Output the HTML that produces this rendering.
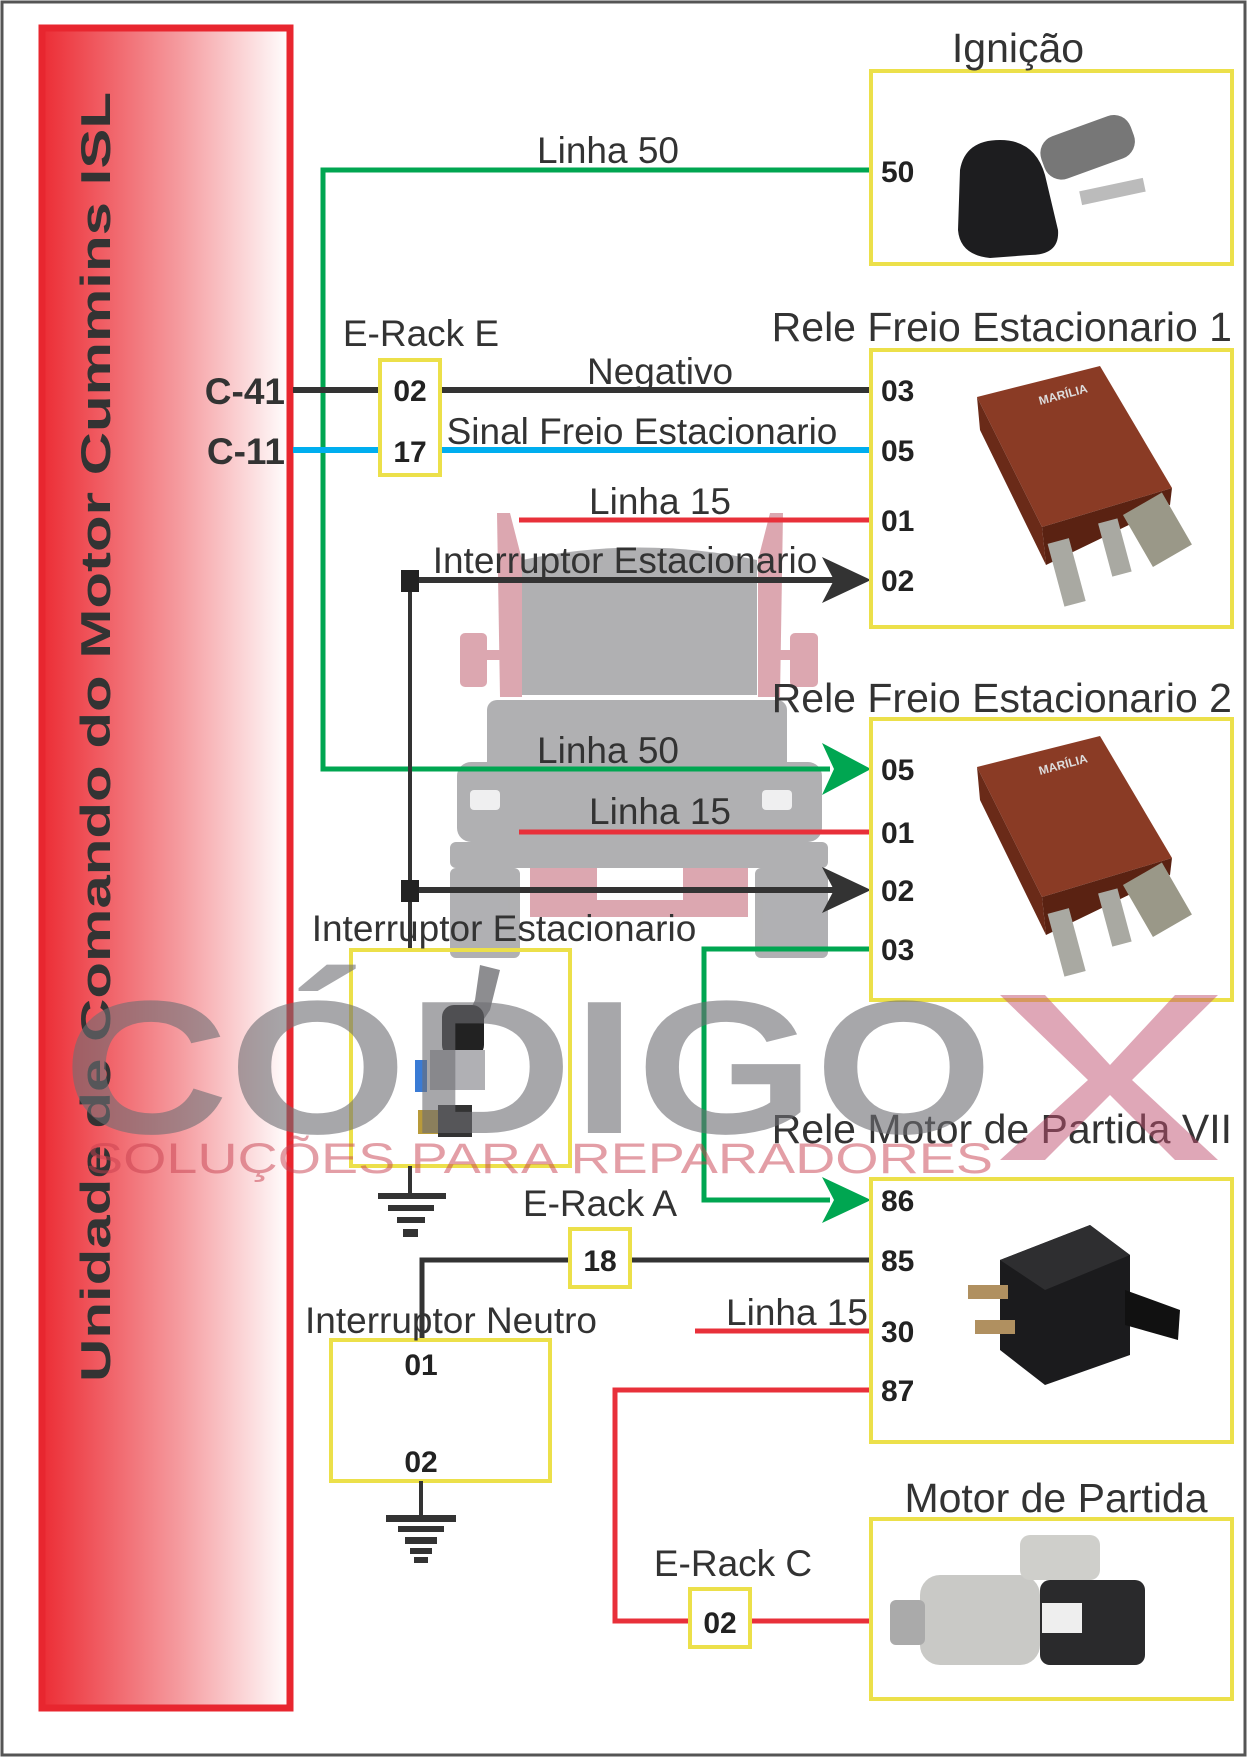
<!DOCTYPE html>
<html><head><meta charset="utf-8">
<style>
html,body{margin:0;padding:0;background:#fff;}
svg{display:block;}
text{font-family:"Liberation Sans",Arial,sans-serif;}
.lb{font-size:37px;fill:#333;}
.tt{font-size:41px;fill:#333;}
.pin{font-size:30px;font-weight:bold;fill:#222;}
</style></head>
<body>
<svg width="1247" height="1757" viewBox="0 0 1247 1757" xmlns="http://www.w3.org/2000/svg">
<defs>
<linearGradient id="ecu" x1="0" x2="1" y1="0" y2="0">
<stop offset="0" stop-color="#ec2d35"/>
<stop offset="0.55" stop-color="#f59a9e"/>
<stop offset="1" stop-color="#ffffff"/>
</linearGradient>
</defs>
<rect x="2" y="2" width="1243" height="1753" fill="#fff" stroke="#555" stroke-width="3"/>
<!-- ECU -->
<rect x="42" y="28" width="248" height="1680" fill="url(#ecu)" stroke="#e8262f" stroke-width="7"/>
<text transform="translate(110,737) rotate(-90)" text-anchor="middle" font-size="42" font-weight="bold" fill="#333" textLength="1290" lengthAdjust="spacingAndGlyphs">Unidade de Comando do Motor Cummins ISL</text>

<!-- Watermark truck (under) -->
<g opacity="0.55">
<path d="M497,513 L510,513 L522,560 L522,697 L500,697 Z" fill="#c06070"/>
<path d="M783,513 L770,513 L758,560 L758,697 L780,697 Z" fill="#c06070"/>
<rect x="460" y="633" width="27" height="54" rx="5" fill="#c06070"/>
<rect x="790" y="633" width="28" height="54" rx="5" fill="#c06070"/>
<rect x="487" y="650" width="20" height="10" fill="#c06070"/>
<rect x="773" y="650" width="20" height="10" fill="#c06070"/>
<path d="M522,560 Q640,535 757,560 L757,695 L522,695 Z" fill="#707075"/>
<rect x="487" y="700" width="300" height="140" rx="10" fill="#707075"/>
<rect x="457" y="762" width="365" height="80" rx="14" fill="#707075"/>
<rect x="450" y="842" width="378" height="26" rx="6" fill="#707075"/>
<rect x="450" y="868" width="70" height="90" rx="6" fill="#707075"/>
<rect x="755" y="868" width="73" height="90" rx="6" fill="#707075"/>
<path d="M530,868 L748,868 L748,917 L530,917 Z M597,868 L597,900 L683,900 L683,868 Z" fill-rule="evenodd" fill="#c06070"/>
</g>
<rect x="470" y="790" width="30" height="20" rx="4" fill="#fff" opacity="0.8"/>
<rect x="762" y="790" width="30" height="20" rx="4" fill="#fff" opacity="0.8"/>

<!-- Green Linha 50 -->
<polyline points="871,170 323,170 323,769 830,769" fill="none" stroke="#00a651" stroke-width="5"/>
<path d="M871,769 L822,743 L834,769 L822,795 Z" fill="#00a651"/>
<text class="lb" x="608" y="163" text-anchor="middle">Linha 50</text>

<!-- Negativo, Sinal -->
<line x1="293" y1="390" x2="871" y2="390" stroke="#333" stroke-width="6"/>
<line x1="293" y1="450" x2="871" y2="450" stroke="#00aeef" stroke-width="6"/>
<rect x="380" y="360" width="60" height="115" fill="#fff" stroke="#ece04a" stroke-width="4"/>
<text class="pin" x="410" y="401" text-anchor="middle">02</text>
<text class="pin" x="410" y="462" text-anchor="middle">17</text>
<text class="lb" x="421" y="346" text-anchor="middle">E-Rack E</text>
<text x="285" y="404" text-anchor="end" font-size="37" font-weight="bold" fill="#333">C-41</text>
<text x="285" y="464" text-anchor="end" font-size="37" font-weight="bold" fill="#333">C-11</text>
<text class="lb" x="660" y="384" text-anchor="middle">Negativo</text>
<text class="lb" x="642" y="444" text-anchor="middle">Sinal Freio Estacionario</text>

<!-- Linha 15 (1) -->
<line x1="519" y1="520" x2="871" y2="520" stroke="#e8303a" stroke-width="5"/>
<text class="lb" x="660" y="514" text-anchor="middle">Linha 15</text>

<!-- Interruptor arrows -->
<line x1="410" y1="580" x2="410" y2="950" stroke="#333" stroke-width="4"/>
<line x1="410" y1="580" x2="835" y2="580" stroke="#333" stroke-width="6"/>
<path d="M871,580 L822,557 L834,580 L822,603 Z" fill="#333"/>
<rect x="401" y="570" width="18" height="22" fill="#222"/>
<text class="lb" x="625" y="573" text-anchor="middle">Interruptor Estacionario</text>
<line x1="410" y1="890" x2="835" y2="890" stroke="#333" stroke-width="6"/>
<path d="M871,890 L822,867 L834,890 L822,913 Z" fill="#333"/>
<rect x="401" y="880" width="18" height="22" fill="#222"/>

<!-- Linha 50 (2), Linha 15 (2) -->
<text class="lb" x="608" y="763" text-anchor="middle">Linha 50</text>
<line x1="519" y1="832" x2="871" y2="832" stroke="#e8303a" stroke-width="5"/>
<text class="lb" x="660" y="824" text-anchor="middle">Linha 15</text>

<!-- Green 03 to 86 -->
<polyline points="871,949 704,949 704,1200 830,1200" fill="none" stroke="#00a651" stroke-width="5"/>
<path d="M871,1200 L822,1177 L834,1200 L822,1223 Z" fill="#00a651"/>

<!-- Interruptor Estacionario box -->
<rect x="351" y="950" width="219" height="216" fill="none" stroke="#ece04a" stroke-width="4"/>
<text class="lb" x="504" y="941" text-anchor="middle">Interruptor Estacionario</text>
<g>
<path d="M480,965 L500,970 L490,1010 L470,1040 L458,1035 L475,1000 Z" fill="#8d8d90"/>
<rect x="442" y="1005" width="42" height="52" rx="12" fill="#222"/>
<rect x="430" y="1050" width="55" height="40" fill="#b0b0b4"/>
<rect x="415" y="1060" width="12" height="32" fill="#3a7bd5"/>
<rect x="438" y="1105" width="34" height="32" fill="#333"/>
<rect x="418" y="1110" width="20" height="24" fill="#b89a3a"/>
</g>
<!-- ground 1 -->
<line x1="410" y1="1166" x2="410" y2="1195" stroke="#333" stroke-width="4"/>
<rect x="378" y="1193" width="68" height="6" fill="#333"/>
<rect x="388" y="1205" width="46" height="6" fill="#333"/>
<rect x="397" y="1217" width="28" height="6" fill="#333"/>
<rect x="403" y="1229" width="15" height="8" fill="#333"/>

<!-- E-Rack A 85 -->
<polyline points="871,1260 422,1260 422,1340" fill="none" stroke="#333" stroke-width="5"/>
<rect x="570" y="1229" width="60" height="58" fill="#fff" stroke="#ece04a" stroke-width="4"/>
<text class="pin" x="600" y="1271" text-anchor="middle">18</text>
<text class="lb" x="600" y="1216" text-anchor="middle">E-Rack A</text>

<!-- Interruptor Neutro -->
<rect x="331" y="1340" width="219" height="141" fill="none" stroke="#ece04a" stroke-width="4"/>
<text class="lb" x="451" y="1333" text-anchor="middle">Interruptor Neutro</text>
<text class="pin" x="421" y="1375" text-anchor="middle">01</text>
<text class="pin" x="421" y="1472" text-anchor="middle">02</text>
<line x1="421" y1="1481" x2="421" y2="1517" stroke="#333" stroke-width="4"/>
<rect x="386" y="1515" width="70" height="7" fill="#333"/>
<rect x="398" y="1526" width="46" height="6" fill="#333"/>
<rect x="405" y="1537" width="32" height="7" fill="#333"/>
<rect x="410" y="1548" width="22" height="6" fill="#333"/>
<rect x="414" y="1557" width="14" height="6" fill="#333"/>

<!-- Linha 15 (3) -->
<line x1="695" y1="1331" x2="871" y2="1331" stroke="#e8303a" stroke-width="5"/>
<text class="lb" x="797" y="1325" text-anchor="middle">Linha 15</text>

<!-- 87 red to motor -->
<polyline points="871,1390 615,1390 615,1621 871,1621" fill="none" stroke="#e8303a" stroke-width="5"/>
<rect x="690" y="1589" width="60" height="58" fill="#fff" stroke="#ece04a" stroke-width="4"/>
<text class="pin" x="720" y="1633" text-anchor="middle">02</text>
<text class="lb" x="733" y="1576" text-anchor="middle">E-Rack C</text>

<!-- Ignição -->
<rect x="871" y="71" width="361" height="193" fill="none" stroke="#ece04a" stroke-width="4"/>
<text class="tt" x="1018" y="62" text-anchor="middle">Ignição</text>
<text class="pin" x="881" y="182">50</text>
<g>
<rect x="1040" y="125" width="95" height="45" rx="18" fill="#777" transform="rotate(-20 1087 147)"/>
<rect x="1080" y="185" width="65" height="14" fill="#bbb" transform="rotate(-12 1110 192)"/>
<path d="M960,170 Q965,140 1000,140 Q1035,140 1045,175 L1058,230 Q1060,255 1030,255 L990,258 Q960,255 958,230 Z" fill="#1d1d1f"/>
</g>

<!-- Rele 1 -->
<rect x="871" y="350" width="361" height="277" fill="none" stroke="#ece04a" stroke-width="4"/>
<text class="tt" x="1232" y="341" text-anchor="end">Rele Freio Estacionario 1</text>
<text class="pin" x="881" y="401">03</text>
<text class="pin" x="881" y="461">05</text>
<text class="pin" x="881" y="531">01</text>
<text class="pin" x="881" y="591">02</text>
<g id="relay">
<path d="M977,397 L1100,366 L1172,488 L1042,527 Z" fill="#8a3b25"/>
<path d="M977,397 L1042,527 L1046,565 L980,430 Z" fill="#6a2a18"/>
<path d="M1042,527 L1172,488 L1170,505 L1046,565 Z" fill="#5a2212"/>
<rect x="1055" y="540" width="22" height="65" fill="#a9a9a2" transform="rotate(-15 1066 570)"/>
<rect x="1105" y="520" width="20" height="55" fill="#a9a9a2" transform="rotate(-15 1115 548)"/>
<rect x="1135" y="500" width="45" height="60" fill="#9a9888" transform="rotate(-30 1157 530)"/>
<text x="1040" y="405" font-size="12" font-weight="bold" fill="#ddd" transform="rotate(-15 1040 405)">MARÍLIA</text>
</g>

<!-- Rele 2 -->
<rect x="871" y="719" width="361" height="281" fill="none" stroke="#ece04a" stroke-width="4"/>
<text class="tt" x="1232" y="712" text-anchor="end">Rele Freio Estacionario 2</text>
<text class="pin" x="881" y="780">05</text>
<text class="pin" x="881" y="843">01</text>
<text class="pin" x="881" y="901">02</text>
<text class="pin" x="881" y="960">03</text>
<use href="#relay" transform="translate(0,370)"/>

<!-- Rele Motor de Partida -->
<rect x="871" y="1179" width="361" height="263" fill="none" stroke="#ece04a" stroke-width="4"/>
<text class="tt" x="1232" y="1143" text-anchor="end">Rele Motor de Partida VII</text>
<text class="pin" x="881" y="1211">86</text>
<text class="pin" x="881" y="1271">85</text>
<text class="pin" x="881" y="1342">30</text>
<text class="pin" x="881" y="1401">87</text>
<g>
<path d="M1000,1260 L1090,1225 L1130,1255 L1130,1355 L1045,1385 L1000,1350 Z" fill="#1b1b1d"/>
<path d="M1000,1260 L1090,1225 L1130,1255 L1045,1290 Z" fill="#2e2e30"/>
<path d="M1125,1290 L1180,1310 L1178,1340 L1125,1325 Z" fill="#111"/>
<rect x="968" y="1285" width="40" height="14" fill="#b09060"/>
<rect x="975" y="1320" width="40" height="14" fill="#b09060"/>
</g>

<!-- Motor de Partida -->
<rect x="871" y="1519" width="361" height="180" fill="none" stroke="#ece04a" stroke-width="4"/>
<text class="tt" x="1056" y="1512" text-anchor="middle">Motor de Partida</text>
<g>
<rect x="920" y="1575" width="120" height="90" rx="20" fill="#c9c9c6"/>
<rect x="1040" y="1580" width="105" height="85" rx="10" fill="#2a2a2c"/>
<rect x="1020" y="1535" width="80" height="45" rx="10" fill="#cfcfcb"/>
<rect x="890" y="1600" width="35" height="45" rx="6" fill="#aaa"/>
<rect x="1042" y="1603" width="40" height="30" fill="#eee"/>
</g>

<!-- CÓDIGO X -->
<text x="63" y="1133" font-size="190" font-weight="bold" fill="#6e6e73" opacity="0.6" textLength="930" lengthAdjust="spacingAndGlyphs">CÓDIGO</text>
<path d="M1000,995 L1045,995 L1110,1065 L1175,995 L1218,995 L1132,1080 L1218,1160 L1175,1160 L1110,1095 L1045,1160 L1000,1160 L1088,1080 Z" fill="#c05070" opacity="0.5"/>
<text x="86" y="1173" font-size="43" fill="#c8404f" opacity="0.5" textLength="907" lengthAdjust="spacingAndGlyphs">SOLUÇÕES PARA REPARADORES</text>
</svg>
</body></html>
